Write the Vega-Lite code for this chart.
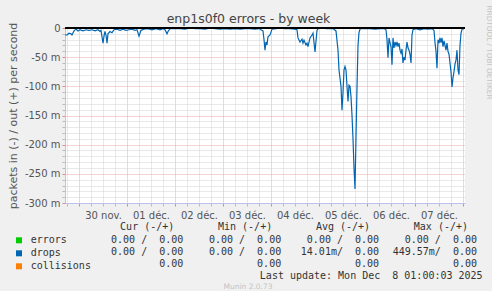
{
  "$schema": "https://vega.github.io/schema/vega-lite/v6.json",
  "background": "#f0f0f0",
  "padding": {"left": 7, "top": 5, "right": 0, "bottom": 0},
  "bounds": "flush",
  "spacing": 24.3,
  "config": {"view": {"stroke": null}, "font": "DejaVu Sans"},
  "resolve": {"scale": {"color": "independent"}, "legend": {"color": "independent"}},
  "vconcat": [
    {
      "width": 400,
      "height": 175,
      "view": {"fill": "#ffffff", "stroke": null},
      "title": {"text": "enp1s0f0 errors - by week", "font": "DejaVu Sans", "fontSize": 12.5, "fontWeight": "normal", "color": "#444444", "anchor": "middle", "frame": "group", "dx": -16.5, "offset": -20},
      "data": {"values": [
        {"time": "2025-11-29T17:00:00Z", "drops": -12},
        {"time": "2025-11-29T18:00:00Z", "drops": -12},
        {"time": "2025-11-29T19:00:00Z", "drops": -9},
        {"time": "2025-11-29T20:00:00Z", "drops": -10},
        {"time": "2025-11-29T20:30:00Z", "drops": -12},
        {"time": "2025-11-29T21:30:00Z", "drops": -5},
        {"time": "2025-11-29T22:30:00Z", "drops": -2},
        {"time": "2025-11-29T23:30:00Z", "drops": -5},
        {"time": "2025-11-30T00:30:00Z", "drops": -3},
        {"time": "2025-11-30T02:00:00Z", "drops": -5},
        {"time": "2025-11-30T03:30:00Z", "drops": -3},
        {"time": "2025-11-30T05:00:00Z", "drops": -4},
        {"time": "2025-11-30T06:30:00Z", "drops": -3},
        {"time": "2025-11-30T08:00:00Z", "drops": -5},
        {"time": "2025-11-30T09:30:00Z", "drops": -3},
        {"time": "2025-11-30T10:30:00Z", "drops": -6},
        {"time": "2025-11-30T11:00:00Z", "drops": -4},
        {"time": "2025-11-30T12:00:00Z", "drops": -26},
        {"time": "2025-11-30T12:30:00Z", "drops": -14},
        {"time": "2025-11-30T13:00:00Z", "drops": -6},
        {"time": "2025-11-30T13:30:00Z", "drops": -12},
        {"time": "2025-11-30T14:00:00Z", "drops": -26},
        {"time": "2025-11-30T14:30:00Z", "drops": -10},
        {"time": "2025-11-30T15:30:00Z", "drops": -6},
        {"time": "2025-11-30T16:30:00Z", "drops": -8},
        {"time": "2025-11-30T17:30:00Z", "drops": -3},
        {"time": "2025-11-30T19:00:00Z", "drops": -2},
        {"time": "2025-11-30T20:30:00Z", "drops": -4},
        {"time": "2025-11-30T22:00:00Z", "drops": -2},
        {"time": "2025-11-30T23:30:00Z", "drops": -4},
        {"time": "2025-12-01T01:00:00Z", "drops": -3},
        {"time": "2025-12-01T02:30:00Z", "drops": -2},
        {"time": "2025-12-01T04:00:00Z", "drops": -4},
        {"time": "2025-12-01T05:00:00Z", "drops": -3},
        {"time": "2025-12-01T06:00:00Z", "drops": -14},
        {"time": "2025-12-01T07:00:00Z", "drops": -4},
        {"time": "2025-12-01T08:30:00Z", "drops": -2},
        {"time": "2025-12-01T10:30:00Z", "drops": -1},
        {"time": "2025-12-01T12:30:00Z", "drops": -3},
        {"time": "2025-12-01T14:30:00Z", "drops": -1},
        {"time": "2025-12-01T16:30:00Z", "drops": -3},
        {"time": "2025-12-01T18:00:00Z", "drops": -1},
        {"time": "2025-12-01T19:00:00Z", "drops": -3},
        {"time": "2025-12-01T20:00:00Z", "drops": -10},
        {"time": "2025-12-01T20:30:00Z", "drops": -6},
        {"time": "2025-12-01T21:30:00Z", "drops": -1},
        {"time": "2025-12-02T00:00:00Z", "drops": -1},
        {"time": "2025-12-02T02:30:00Z", "drops": -1},
        {"time": "2025-12-02T05:00:00Z", "drops": -2},
        {"time": "2025-12-02T07:30:00Z", "drops": 0},
        {"time": "2025-12-02T10:00:00Z", "drops": -1},
        {"time": "2025-12-02T12:30:00Z", "drops": -1},
        {"time": "2025-12-02T15:00:00Z", "drops": -2},
        {"time": "2025-12-02T17:30:00Z", "drops": 0},
        {"time": "2025-12-02T20:00:00Z", "drops": -1},
        {"time": "2025-12-02T22:30:00Z", "drops": -2},
        {"time": "2025-12-03T01:00:00Z", "drops": -1},
        {"time": "2025-12-03T03:30:00Z", "drops": -2},
        {"time": "2025-12-03T06:00:00Z", "drops": -1},
        {"time": "2025-12-03T08:30:00Z", "drops": -2},
        {"time": "2025-12-03T11:00:00Z", "drops": -1},
        {"time": "2025-12-03T13:30:00Z", "drops": -1},
        {"time": "2025-12-03T16:00:00Z", "drops": -2},
        {"time": "2025-12-03T18:00:00Z", "drops": -1},
        {"time": "2025-12-03T19:00:00Z", "drops": -3},
        {"time": "2025-12-03T20:00:00Z", "drops": -5},
        {"time": "2025-12-03T20:30:00Z", "drops": -20},
        {"time": "2025-12-03T21:00:00Z", "drops": -38},
        {"time": "2025-12-03T21:30:00Z", "drops": -24},
        {"time": "2025-12-03T22:00:00Z", "drops": -29},
        {"time": "2025-12-03T22:30:00Z", "drops": -15},
        {"time": "2025-12-03T23:30:00Z", "drops": -12},
        {"time": "2025-12-04T00:00:00Z", "drops": -7},
        {"time": "2025-12-04T00:30:00Z", "drops": -2},
        {"time": "2025-12-04T02:30:00Z", "drops": -1},
        {"time": "2025-12-04T04:30:00Z", "drops": 0},
        {"time": "2025-12-04T07:00:00Z", "drops": -1},
        {"time": "2025-12-04T09:30:00Z", "drops": -1},
        {"time": "2025-12-04T12:00:00Z", "drops": -2},
        {"time": "2025-12-04T13:00:00Z", "drops": -3},
        {"time": "2025-12-04T13:30:00Z", "drops": -17},
        {"time": "2025-12-04T14:30:00Z", "drops": -24},
        {"time": "2025-12-04T15:30:00Z", "drops": -19},
        {"time": "2025-12-04T16:00:00Z", "drops": -26},
        {"time": "2025-12-04T16:30:00Z", "drops": -21},
        {"time": "2025-12-04T17:30:00Z", "drops": -29},
        {"time": "2025-12-04T18:00:00Z", "drops": -26},
        {"time": "2025-12-04T18:30:00Z", "drops": -32},
        {"time": "2025-12-04T19:30:00Z", "drops": -17},
        {"time": "2025-12-04T20:30:00Z", "drops": -12},
        {"time": "2025-12-04T21:00:00Z", "drops": -9},
        {"time": "2025-12-04T22:00:00Z", "drops": -41},
        {"time": "2025-12-04T23:00:00Z", "drops": -4},
        {"time": "2025-12-04T23:30:00Z", "drops": -1},
        {"time": "2025-12-05T01:00:00Z", "drops": 0},
        {"time": "2025-12-05T04:00:00Z", "drops": -1},
        {"time": "2025-12-05T07:00:00Z", "drops": -1},
        {"time": "2025-12-05T08:30:00Z", "drops": -5},
        {"time": "2025-12-05T09:30:00Z", "drops": -38},
        {"time": "2025-12-05T10:00:00Z", "drops": -72},
        {"time": "2025-12-05T11:00:00Z", "drops": -100},
        {"time": "2025-12-05T11:30:00Z", "drops": -141},
        {"time": "2025-12-05T12:00:00Z", "drops": -110},
        {"time": "2025-12-05T12:30:00Z", "drops": -72},
        {"time": "2025-12-05T13:00:00Z", "drops": -66},
        {"time": "2025-12-05T13:30:00Z", "drops": -72},
        {"time": "2025-12-05T14:00:00Z", "drops": -100},
        {"time": "2025-12-05T14:30:00Z", "drops": -126},
        {"time": "2025-12-05T15:00:00Z", "drops": -98},
        {"time": "2025-12-05T15:30:00Z", "drops": -100},
        {"time": "2025-12-05T16:00:00Z", "drops": -118},
        {"time": "2025-12-05T16:30:00Z", "drops": -150},
        {"time": "2025-12-05T17:00:00Z", "drops": -190},
        {"time": "2025-12-05T17:30:00Z", "drops": -240},
        {"time": "2025-12-05T18:00:00Z", "drops": -276},
        {"time": "2025-12-05T18:30:00Z", "drops": -186},
        {"time": "2025-12-05T19:00:00Z", "drops": -101},
        {"time": "2025-12-05T19:30:00Z", "drops": -30},
        {"time": "2025-12-05T20:00:00Z", "drops": -8},
        {"time": "2025-12-05T20:30:00Z", "drops": -2},
        {"time": "2025-12-05T21:00:00Z", "drops": -1},
        {"time": "2025-12-05T23:00:00Z", "drops": -1},
        {"time": "2025-12-06T01:30:00Z", "drops": -1},
        {"time": "2025-12-06T04:00:00Z", "drops": -2},
        {"time": "2025-12-06T06:30:00Z", "drops": -1},
        {"time": "2025-12-06T08:30:00Z", "drops": -1},
        {"time": "2025-12-06T09:30:00Z", "drops": -3},
        {"time": "2025-12-06T10:00:00Z", "drops": -20},
        {"time": "2025-12-06T10:30:00Z", "drops": -51},
        {"time": "2025-12-06T11:00:00Z", "drops": -17},
        {"time": "2025-12-06T11:30:00Z", "drops": -25},
        {"time": "2025-12-06T12:00:00Z", "drops": -32},
        {"time": "2025-12-06T12:30:00Z", "drops": -63},
        {"time": "2025-12-06T13:00:00Z", "drops": -17},
        {"time": "2025-12-06T13:30:00Z", "drops": -34},
        {"time": "2025-12-06T14:00:00Z", "drops": -24},
        {"time": "2025-12-06T14:30:00Z", "drops": -30},
        {"time": "2025-12-06T15:00:00Z", "drops": -24},
        {"time": "2025-12-06T15:30:00Z", "drops": -32},
        {"time": "2025-12-06T16:00:00Z", "drops": -26},
        {"time": "2025-12-06T16:30:00Z", "drops": -38},
        {"time": "2025-12-06T17:00:00Z", "drops": -43},
        {"time": "2025-12-06T17:30:00Z", "drops": -36},
        {"time": "2025-12-06T18:00:00Z", "drops": -60},
        {"time": "2025-12-06T18:30:00Z", "drops": -50},
        {"time": "2025-12-06T19:00:00Z", "drops": -55},
        {"time": "2025-12-06T19:30:00Z", "drops": -38},
        {"time": "2025-12-06T20:00:00Z", "drops": -24},
        {"time": "2025-12-06T20:30:00Z", "drops": -34},
        {"time": "2025-12-06T21:00:00Z", "drops": -38},
        {"time": "2025-12-06T21:30:00Z", "drops": -45},
        {"time": "2025-12-06T22:00:00Z", "drops": -60},
        {"time": "2025-12-06T22:30:00Z", "drops": -12},
        {"time": "2025-12-06T23:00:00Z", "drops": -3},
        {"time": "2025-12-07T00:30:00Z", "drops": -1},
        {"time": "2025-12-07T02:30:00Z", "drops": -3},
        {"time": "2025-12-07T04:30:00Z", "drops": -1},
        {"time": "2025-12-07T06:30:00Z", "drops": -2},
        {"time": "2025-12-07T08:30:00Z", "drops": -1},
        {"time": "2025-12-07T09:30:00Z", "drops": -4},
        {"time": "2025-12-07T10:00:00Z", "drops": -25},
        {"time": "2025-12-07T10:30:00Z", "drops": -40},
        {"time": "2025-12-07T11:00:00Z", "drops": -69},
        {"time": "2025-12-07T11:30:00Z", "drops": -20},
        {"time": "2025-12-07T12:00:00Z", "drops": -26},
        {"time": "2025-12-07T12:30:00Z", "drops": -17},
        {"time": "2025-12-07T13:00:00Z", "drops": -25},
        {"time": "2025-12-07T13:30:00Z", "drops": -17},
        {"time": "2025-12-07T14:00:00Z", "drops": -32},
        {"time": "2025-12-07T14:30:00Z", "drops": -22},
        {"time": "2025-12-07T15:00:00Z", "drops": -30},
        {"time": "2025-12-07T15:30:00Z", "drops": -38},
        {"time": "2025-12-07T16:00:00Z", "drops": -26},
        {"time": "2025-12-07T16:30:00Z", "drops": -40},
        {"time": "2025-12-07T17:00:00Z", "drops": -45},
        {"time": "2025-12-07T17:30:00Z", "drops": -60},
        {"time": "2025-12-07T18:00:00Z", "drops": -75},
        {"time": "2025-12-07T18:30:00Z", "drops": -101},
        {"time": "2025-12-07T19:00:00Z", "drops": -85},
        {"time": "2025-12-07T19:30:00Z", "drops": -75},
        {"time": "2025-12-07T20:00:00Z", "drops": -62},
        {"time": "2025-12-07T20:30:00Z", "drops": -55},
        {"time": "2025-12-07T21:00:00Z", "drops": -38},
        {"time": "2025-12-07T21:30:00Z", "drops": -72},
        {"time": "2025-12-07T22:00:00Z", "drops": -80},
        {"time": "2025-12-07T22:30:00Z", "drops": -30},
        {"time": "2025-12-07T23:00:00Z", "drops": -9},
        {"time": "2025-12-07T23:30:00Z", "drops": -2},
        {"time": "2025-12-08T00:30:00Z", "drops": -1}
      ]},
      "layer": [
        {
          "transform": [{"fold": ["drops"], "as": ["series", "value"]}],
          "mark": {"type": "line", "strokeWidth": 1.2, "clip": true},
          "encoding": {
            "x": {
              "field": "time", "type": "temporal",
              "scale": {"type": "utc", "domain": [{"year": 2025, "month": 11, "date": 29, "hours": 17, "utc": true}, {"year": 2025, "month": 12, "date": 8, "hours": 1, "utc": true}], "nice": false},
              "axis": {
                "title": null,
                "values": [
                  {"year": 2025, "month": 11, "date": 29, "hours": 18, "utc": true},
                  {"year": 2025, "month": 11, "date": 30, "hours": 0, "utc": true},
                  {"year": 2025, "month": 11, "date": 30, "hours": 6, "utc": true},
                  {"year": 2025, "month": 11, "date": 30, "hours": 12, "utc": true},
                  {"year": 2025, "month": 11, "date": 30, "hours": 18, "utc": true},
                  {"year": 2025, "month": 12, "date": 1, "hours": 0, "utc": true},
                  {"year": 2025, "month": 12, "date": 1, "hours": 6, "utc": true},
                  {"year": 2025, "month": 12, "date": 1, "hours": 12, "utc": true},
                  {"year": 2025, "month": 12, "date": 1, "hours": 18, "utc": true},
                  {"year": 2025, "month": 12, "date": 2, "hours": 0, "utc": true},
                  {"year": 2025, "month": 12, "date": 2, "hours": 6, "utc": true},
                  {"year": 2025, "month": 12, "date": 2, "hours": 12, "utc": true},
                  {"year": 2025, "month": 12, "date": 2, "hours": 18, "utc": true},
                  {"year": 2025, "month": 12, "date": 3, "hours": 0, "utc": true},
                  {"year": 2025, "month": 12, "date": 3, "hours": 6, "utc": true},
                  {"year": 2025, "month": 12, "date": 3, "hours": 12, "utc": true},
                  {"year": 2025, "month": 12, "date": 3, "hours": 18, "utc": true},
                  {"year": 2025, "month": 12, "date": 4, "hours": 0, "utc": true},
                  {"year": 2025, "month": 12, "date": 4, "hours": 6, "utc": true},
                  {"year": 2025, "month": 12, "date": 4, "hours": 12, "utc": true},
                  {"year": 2025, "month": 12, "date": 4, "hours": 18, "utc": true},
                  {"year": 2025, "month": 12, "date": 5, "hours": 0, "utc": true},
                  {"year": 2025, "month": 12, "date": 5, "hours": 6, "utc": true},
                  {"year": 2025, "month": 12, "date": 5, "hours": 12, "utc": true},
                  {"year": 2025, "month": 12, "date": 5, "hours": 18, "utc": true},
                  {"year": 2025, "month": 12, "date": 6, "hours": 0, "utc": true},
                  {"year": 2025, "month": 12, "date": 6, "hours": 6, "utc": true},
                  {"year": 2025, "month": 12, "date": 6, "hours": 12, "utc": true},
                  {"year": 2025, "month": 12, "date": 6, "hours": 18, "utc": true},
                  {"year": 2025, "month": 12, "date": 7, "hours": 0, "utc": true},
                  {"year": 2025, "month": 12, "date": 7, "hours": 6, "utc": true},
                  {"year": 2025, "month": 12, "date": 7, "hours": 12, "utc": true},
                  {"year": 2025, "month": 12, "date": 7, "hours": 18, "utc": true},
                  {"year": 2025, "month": 12, "date": 8, "hours": 0, "utc": true}
                ],
                "labelExpr": "utchours(datum.value) == 12 ? (utcFormat(datum.value, '%d') + (utcmonth(datum.value) == 10 ? ' nov.' : ' déc.')) : ''",
                "grid": true,
                "gridDash": [1, 1],
                "gridColor": {"condition": {"test": "utchours(datum.value) == 0", "value": "#eba9a9"}, "value": "#d2d2d2"},
                "tickColor": {"condition": {"test": "utchours(datum.value) == 0", "value": "#e08888"}, "value": "#bbbbbb"},
                "tickSize": 3,
                "domainColor": "#c0c0f0",
                "labelColor": "#555555",
                "labelFont": "DejaVu Sans",
                "labelFontSize": 10,
                "labelPadding": 4,
                "labelOverlap": false,
                "labelFlush": false,
                "labelBound": false
              }
            },
            "y": {
              "field": "value", "type": "quantitative",
              "scale": {"domain": [-300, 0], "nice": false, "zero": false},
              "axis": {
                "values": [-300, -290, -280, -270, -260, -250, -240, -230, -220, -210, -200, -190, -180, -170, -160, -150, -140, -130, -120, -110, -100, -90, -80, -70, -60, -50, -40, -30, -20, -10, 0],
                "labelExpr": "datum.value % 50 == 0 ? (datum.value == 0 ? '0' : datum.value + ' m') : ''",
                "grid": true,
                "gridDash": [1, 1],
                "gridColor": {"condition": {"test": "datum.value % 50 == 0", "value": "#eba9a9"}, "value": "#d2d2d2"},
                "tickColor": {"condition": {"test": "datum.value % 50 == 0", "value": "#e08888"}, "value": "#bbbbbb"},
                "tickSize": 3,
                "domainColor": "#c0c0f0",
                "labelColor": "#555555",
                "labelFont": "DejaVu Sans",
                "labelFontSize": 10,
                "labelPadding": 2,
                "labelOverlap": false,
                "labelFlush": false,
                "labelBound": false,
                "title": "packets in (-) / out (+) per second",
                "titleFont": "DejaVu Sans",
                "titleFontSize": 11,
                "titleFontWeight": "normal",
                "titleColor": "#555555",
                "titlePadding": 6
              }
            },
            "color": {
              "field": "series", "type": "nominal",
              "scale": {"domain": ["errors", "drops", "collisions"], "range": ["#00cc00", "#0066b3", "#ff8000"]},
              "legend": {
                "orient": "none", "legendX": -51, "legendY": 207.3, "title": null,
                "symbolType": "square", "symbolSize": 9, "symbolStrokeWidth": 3,
                "labelFont": "DejaVu Sans Mono", "labelFontSize": 10, "labelColor": "#333333",
                "labelOffset": 6.7, "rowPadding": -4.8, "padding": 0, "direction": "vertical"
              }
            }
          }
        },
        {
          "mark": {"type": "rule", "color": "#000000", "strokeWidth": 1},
          "encoding": {
            "y": {
              "datum": 0, "type": "quantitative",
              "axis": {
                "orient": "right", "domain": false, "ticks": false, "labels": false, "grid": false,
                "title": "RRDTOOL / TOBI OETIKER",
                "titleFont": "DejaVu Sans", "titleFontSize": 7.3, "titleFontWeight": "normal", "titleColor": "#c4c4c4",
                "titleAngle": 90, "titleAlign": "left", "titleBaseline": "middle", "titleX": 23, "titleY": -23
              }
            }
          }
        }
      ],
      "resolve": {"axis": {"y": "independent"}}
    },
    {
      "width": 412,
      "height": 48.8,
      "data": {"values": [
        {"row": "header", "col": "Cur", "text": "Cur (-/+)"},
        {"row": "header", "col": "Min", "text": "Min (-/+)"},
        {"row": "header", "col": "Avg", "text": "Avg (-/+)"},
        {"row": "header", "col": "Max", "text": "Max (-/+)"},
        {"row": "errors", "col": "Cur", "text": "0.00 / \u00a00.00"},
        {"row": "errors", "col": "Min", "text": "0.00 / \u00a00.00"},
        {"row": "errors", "col": "Avg", "text": "0.00 / \u00a00.00"},
        {"row": "errors", "col": "Max", "text": "0.00 / \u00a00.00"},
        {"row": "drops", "col": "Cur", "text": "0.00 / \u00a00.00"},
        {"row": "drops", "col": "Min", "text": "0.00 / \u00a00.00"},
        {"row": "drops", "col": "Avg", "text": "14.01m/ \u00a00.00"},
        {"row": "drops", "col": "Max", "text": "449.57m/ \u00a00.00"},
        {"row": "collisions", "col": "Cur", "text": "0.00"},
        {"row": "collisions", "col": "Min", "text": "0.00"},
        {"row": "collisions", "col": "Avg", "text": "0.00"},
        {"row": "collisions", "col": "Max", "text": "0.00"},
        {"row": "update", "col": "Max", "text": "Last update: Mon Dec \u00a08 01:00:03 2025"}
      ]},
      "encoding": {
        "x": {"field": "col", "type": "ordinal", "scale": {"type": "point", "domain": ["Cur", "Min", "Avg", "Max"], "padding": 0.604, "align": 1}, "axis": null},
        "y": {"field": "row", "type": "ordinal", "scale": {"type": "point", "domain": ["header", "errors", "drops", "collisions", "update"], "padding": 0}, "axis": null},
        "text": {"field": "text"}
      },
      "layer": [
        {"transform": [{"filter": "datum.row == 'header'"}], "mark": {"type": "text", "align": "right", "baseline": "middle", "dx": -9, "font": "DejaVu Sans Mono", "fontSize": 10, "color": "#333333"}},
        {"transform": [{"filter": "datum.row != 'header' && datum.row != 'update'"}], "mark": {"type": "text", "align": "right", "baseline": "middle", "font": "DejaVu Sans Mono", "fontSize": 10, "color": "#333333"}},
        {"transform": [{"filter": "datum.row == 'update'"}], "mark": {"type": "text", "align": "right", "baseline": "middle", "dx": 5.6, "font": "DejaVu Sans Mono", "fontSize": 10, "color": "#333333"}}
      ],
      "title": {"text": "Munin 2.0.73", "orient": "bottom", "anchor": "middle", "frame": "group", "font": "DejaVu Sans", "fontSize": 7.5, "fontWeight": "normal", "color": "#c4c4c4", "dx": -23, "offset": 2}
    }
  ]
}
